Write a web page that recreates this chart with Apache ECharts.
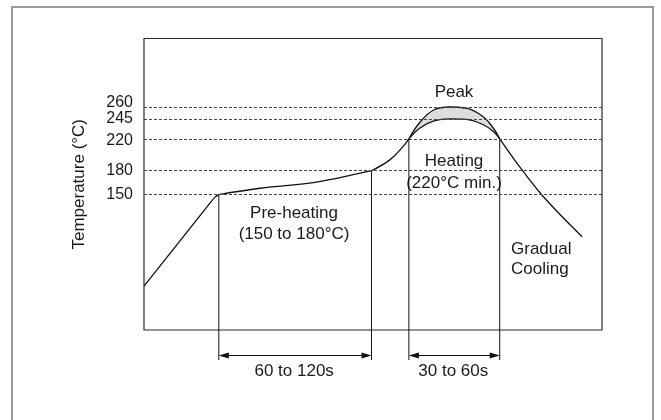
<!DOCTYPE html>
<html>
<head>
<meta charset="utf-8">
<title>Reflow soldering temperature profile</title>
<script src="https://cdn.jsdelivr.net/npm/echarts@6/dist/echarts.min.js"></script>
<style>
  html, body { margin: 0; padding: 0; background: #ffffff; }
  #chart { width: 661px; height: 420px; }
</style>
</head>
<body>
<div id="chart"></div>
<script>
// Profile segments: time (s) and temperature (°C)
const rampUpT = [0, 43.2, 46.5, 49];
const rampUpV = [35, 139.3, 146.8, 150];
const preheatT = [49, 76, 111, 128.4, 149];
const preheatV = [150, 158, 165, 171.4, 180];
const riseT = [149, 161, 169.6, 173.5];
const riseV = [180, 193.6, 210.2, 220];
const peakT = [173.5, 181, 190, 200, 211, 222, 229, 233];
const peakLowV = [220, 234, 242.5, 245, 244.5, 238, 229, 220];
const peakHighV = [220, 241.5, 256.5, 260, 258.5, 248, 233, 220];
const coolT = [233, 246, 259.5, 272.5, 287];
const coolV = [220, 185, 152, 125, 97];

// Temperature levels marked on the axis
const tempTicks = [150, 180, 220, 245, 260];

// Zone boundaries (time, temperature where the boundary meets the profile)
const zoneT = [49, 149, 173.5, 233];
const zoneV = [150, 180, 220, 220];

// Duration spans between zone boundaries
const spanFrom = [0, 2];
const spanTo = [1, 3];
const spanLabels = ['60 to 120s', '30 to 60s'];

const FONT = '"Liberation Sans", Arial, Helvetica, sans-serif';
const INK = '#111111';
const TXT = '#1a1a1a';

const pairs = (xs, ys) => xs.map((x, i) => [x, ys[i]]);

const Y_MIN = -20, Y_MAX = 346;
// Base level for the peak band fills, just above the 220 °C line
const BAND_BASE = 222;
// Level labels that sit close together get nudged apart vertically
const LEVEL_LABEL_SHIFT = { 260: -4.5, 220: 1.5 };

function profileLine(name, data, smooth, extra) {
  return Object.assign({
    name: name,
    type: 'line',
    data: data,
    smooth: smooth,
    symbol: 'none',
    silent: true,
    lineStyle: { color: INK, width: 1.3 },
    z: 3
  }, extra || {});
}

function centerText(x, y, text) {
  return {
    type: 'text', x: x, y: y, silent: true,
    style: { text: text, font: '17px ' + FONT, fill: TXT,
      align: 'center', verticalAlign: 'middle', textAlign: 'center', textVerticalAlign: 'middle' }
  };
}
function leftText(x, y, text) {
  return {
    type: 'text', x: x, y: y, silent: true,
    style: { text: text, font: '17px ' + FONT, fill: TXT,
      align: 'left', verticalAlign: 'middle', textAlign: 'left', textVerticalAlign: 'middle' }
  };
}

const chart = echarts.init(document.getElementById('chart'), null, { renderer: 'canvas' });

chart.setOption({
  animation: false,
  backgroundColor: '#ffffff',
  textStyle: { fontFamily: FONT },
  grid: {
    left: 144, right: 59, top: 38.5, bottom: 90,
    show: true, borderColor: '#2a2a2a', borderWidth: 1.2,
    backgroundColor: 'transparent',
    containLabel: false,
    outerBoundsMode: 'none'
  },
  xAxis: {
    type: 'value', min: 0, max: 300,
    axisLine: { show: false }, axisTick: { show: false },
    axisLabel: { show: false }, splitLine: { show: false }
  },
  yAxis: {
    type: 'value', min: Y_MIN, max: Y_MAX,
    axisLine: { show: false },
    axisTick: { show: false },
    splitLine: { show: false },
    axisLabel: { show: false },
    name: 'Temperature (°C)',
    nameLocation: 'middle',
    nameRotate: 90,
    nameGap: 56,
    nameTextStyle: { color: TXT, fontSize: 17, fontFamily: FONT }
  },
  graphic: [
    {
      type: 'rect', z: -10, silent: true,
      shape: { x: 12, y: 7, width: 641, height: 430 },
      style: { fill: 'none', stroke: '#9a9a9a', lineWidth: 2 }
    },
    centerText(454, 92, 'Peak'),
    centerText(454, 161, 'Heating'),
    centerText(454, 183, '(220°C min.)'),
    centerText(294, 213, 'Pre-heating'),
    centerText(294, 234.5, '(150 to 180°C)'),
    leftText(511, 249.5, 'Gradual'),
    leftText(511, 269.5, 'Cooling')
  ],
  series: [
    profileLine('ramp', pairs(rampUpT, rampUpV), 0.3, {
      // Dashed reference levels, labelled at the left of the plot
      markLine: {
        silent: true,
        symbol: ['none', 'none'],
        label: {
          show: true, position: 'start', distance: 11,
          formatter: p => String(p.value),
          color: TXT, fontSize: 16, fontFamily: FONT
        },
        lineStyle: { type: [3, 2], color: '#444444', width: 1 },
        data: tempTicks.map(v => ({
          yAxis: v,
          label: { offset: [0, LEVEL_LABEL_SHIFT[v] || 0] }
        }))
      },
      z: 2
    }),
    profileLine('preheat', pairs(preheatT, preheatV), 0.4),
    profileLine('rise', pairs(riseT, riseV), 0.4),
    // Upper edge of the peak band, shaded down to the band base
    profileLine('peakHigh', pairs(peakT, peakHighV), 0.4, {
      areaStyle: { color: '#dddddd', opacity: 1, origin: BAND_BASE },
      z: 3
    }),
    // Lower edge of the peak band; its white fill clears the shading beneath it
    profileLine('peakLow', pairs(peakT, peakLowV), 0.4, {
      areaStyle: { color: '#ffffff', opacity: 1, origin: BAND_BASE },
      z: 3.5
    }),
    profileLine('cool', pairs(coolT, coolV), 0.3),
    // Zone boundary lines, dropped below the plot to the duration arrows
    {
      type: 'custom',
      clip: false,
      silent: true,
      z: 4,
      data: zoneT.map((t, i) => [t, zoneV[i]]),
      renderItem: function (params, api) {
        const top = api.coord([api.value(0), api.value(1)]);
        const base = api.coord([api.value(0), Y_MIN]);
        return {
          type: 'line',
          shape: { x1: top[0], y1: top[1], x2: top[0], y2: base[1] + 30 },
          style: { stroke: INK, lineWidth: 1 }
        };
      }
    },
    // Duration arrows with their labels
    {
      type: 'custom',
      clip: false,
      silent: true,
      z: 4,
      data: spanLabels.map((s, i) => [zoneT[spanFrom[i]], zoneT[spanTo[i]], i]),
      renderItem: function (params, api) {
        const a = api.coord([api.value(0), Y_MIN]);
        const b = api.coord([api.value(1), Y_MIN]);
        const y = a[1] + 25.5;
        const x1 = a[0], x2 = b[0];
        const head = 10, half = 3;
        return {
          type: 'group',
          children: [
            { type: 'line', shape: { x1: x1 + 2, y1: y, x2: x2 - 2, y2: y },
              style: { stroke: INK, lineWidth: 1.2 } },
            { type: 'polygon', shape: { points: [[x1, y], [x1 + head, y - half], [x1 + head, y + half]] },
              style: { fill: INK } },
            { type: 'polygon', shape: { points: [[x2, y], [x2 - head, y - half], [x2 - head, y + half]] },
              style: { fill: INK } },
            { type: 'text',
              style: { text: spanLabels[api.value(2)], x: (x1 + x2) / 2 - 1, y: y + 15.5,
                font: '17px ' + FONT, fill: TXT,
                align: 'center', verticalAlign: 'middle', textAlign: 'center', textVerticalAlign: 'middle' } }
          ]
        };
      }
    }
  ]
});
</script>
</body>
</html>
